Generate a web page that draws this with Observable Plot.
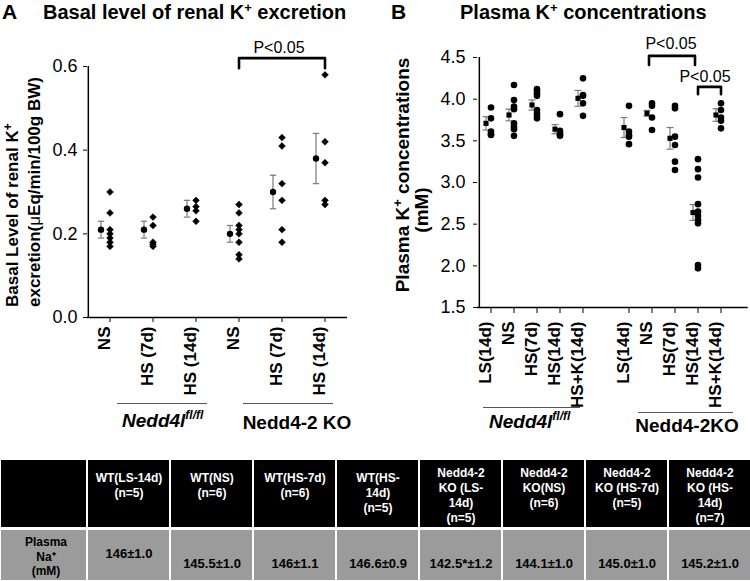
<!DOCTYPE html>
<html><head><meta charset="utf-8">
<script src="https://cdn.jsdelivr.net/npm/d3@7"></script>
<script src="https://cdn.jsdelivr.net/npm/@observablehq/plot@0.6"></script>
<style>
body{margin:0;background:#fff;}
#wrap{position:relative;width:750px;height:581px;overflow:hidden;background:#fff;font-family:"Liberation Sans",Arial,sans-serif;}
#wrap > *{position:absolute;}
</style></head><body>
<div id="wrap"></div>
<script>
// ---------------- DATA ----------------
// Panel A: basal renal K+ excretion (uEq/min/100g BW)
const aCategories = ["NS", "HS (7d)", "HS (14d)", "NS", "HS (7d)", "HS (14d)"];
const aTicks = [0, 0.2, 0.4, 0.6];
const aWT_NS    = [0.30, 0.25, 0.21, 0.20, 0.19, 0.18, 0.17];
const aWT_HS7   = [0.24, 0.22, 0.18, 0.175, 0.17];
const aWT_HS14  = [0.28, 0.265, 0.255, 0.23];
const aKO_NS    = [0.27, 0.25, 0.22, 0.21, 0.20, 0.18, 0.15, 0.14];
const aKO_HS7   = [0.43, 0.41, 0.32, 0.28, 0.21, 0.18];
const aKO_HS14  = [0.58, 0.42, 0.37, 0.28, 0.27];
const aMeans = [0.21, 0.21, 0.26, 0.20, 0.30, 0.38];
const aErrors = [0.02, 0.02, 0.02, 0.02, 0.04, 0.06];
const aBracket = [{x: 3, y: 0.596}, {x: 3, y: 0.62}, {x: 5, y: 0.62}, {x: 5, y: 0.596}];
const aBracketLabel = [{x: 4, y: 0.62, t: "P<0.05"}];

// Panel B: plasma K+ concentrations (mM)
const bCategories = ["LS(14d)", "NS", "HS(7d)", "HS(14d)", "HS+K(14d)", "", "LS(14d)", "NS", "HS(7d)", "HS(14d)", "HS+K(14d)"];
const bTicks = [1.5, 2.0, 2.5, 3.0, 3.5, 4.0, 4.5];
const bWT_LS14  = [3.90, 3.77, 3.61, 3.58, 3.57];
const bWT_NS    = [4.17, 3.99, 3.91, 3.88, 3.71, 3.67, 3.64, 3.56];
const bWT_HS7   = [4.12, 4.10, 4.07, 4.04, 3.87, 3.83, 3.80, 3.77];
const bWT_HS14  = [3.82, 3.62, 3.59, 3.57, 3.56];
const bWT_HSK   = [4.25, 4.05, 4.04, 3.95, 3.80];
const bKO_LS14  = [3.92, 3.61, 3.57, 3.55, 3.46];
const bKO_NS    = [3.95, 3.92, 3.78, 3.63];
const bKO_HS7   = [3.92, 3.89, 3.55, 3.45, 3.25, 3.15];
const bKO_HS14  = [3.28, 3.16, 3.06, 2.74, 2.65, 2.60, 2.55, 2.51, 2.01, 1.97];
const bKO_HSK   = [3.95, 3.87, 3.78, 3.74, 3.65];
const bMeans  = [3.71, 3.81, 3.93, 3.64, 4.01, null, 3.66, 3.83, 3.53, 2.64, 3.81];
const bErrors = [0.08, 0.07, 0.06, 0.055, 0.095, null, 0.12, 0.035, 0.13, 0.095, 0.075];
const bBracket1 = [{x: 7, y: 4.41}, {x: 7, y: 4.52}, {x: 9, y: 4.52}, {x: 9, y: 4.41}];
const bBracket2 = [{x: 9, y: 4.06}, {x: 9, y: 4.147}, {x: 10, y: 4.147}, {x: 10, y: 4.06}];
const bBracketLabels = [{x: 8, y: 4.52, t: "P<0.05"}];
const bBracketLabels2 = [{x: 10, y: 4.147, t: "P<0.05"}];

// Table: plasma Na+
const tableHeader = ["", "WT(LS-14d)\n(n=5)", "WT(NS)\n(n=6)", "WT(HS-7d)\n(n=6)", "WT(HS-\n14d)\n(n=5)",
  "Nedd4-2\nKO (LS-\n14d)\n(n=5)", "Nedd4-2\nKO(NS)\n(n=6)", "Nedd4-2\nKO (HS-7d)\n(n=5)", "Nedd4-2\nKO (HS-\n14d)\n(n=7)"];
const tableRow = ["Plasma\nNa\u207A\n(mM)", "146\u00B11.0", "145.5\u00B11.0", "146\u00B11.1", "146.6\u00B10.9",
  "142.5*\u00B11.2", "144.1\u00B11.0", "145.0\u00B11.0", "145.2\u00B11.0"];

// ---------------- BUILD ----------------
const FONT = '"Liberation Sans", Arial, sans-serif';
const wrap = document.getElementById("wrap");
const capSymbol = {draw(ctx, size) { const r = Math.sqrt(size / Math.PI); ctx.moveTo(-r, 0); ctx.lineTo(r, 0); }};
const baseStyle = {fontFamily: FONT, fontSize: "17px", background: "transparent", overflow: "visible", color: "black"};

function place(el, left, top) { el.style.left = left + "px"; el.style.top = top + "px"; wrap.appendChild(el); }

// Panel A
const aIdx = d3.range(aCategories.length);
const aGroups = [aWT_NS, aWT_HS7, aWT_HS14, aKO_NS, aKO_HS7, aKO_HS14];
const aPoints = aGroups.flatMap((vals, g) => vals.map(v => ({g, v})));
const aSummary = aMeans.map((m, g) => ({g, m, e: aErrors[g]}));
const aCaps = aSummary.flatMap(d => [{g: d.g, y: d.m - d.e}, {g: d.g, y: d.m + d.e}]);
const A = {w: 375, h: 410, ml: 87, mr: 28, mt: 66, mb: 93};
const bwA = (A.w - A.ml - A.mr) / aCategories.length;
const plotA = Plot.plot({
  width: A.w, height: A.h, marginLeft: A.ml, marginRight: A.mr, marginTop: A.mt, marginBottom: A.mb,
  style: baseStyle,
  x: {type: "band", domain: aIdx, padding: 0, axis: null},
  y: {domain: [0, 0.6], axis: null},
  marks: [
    Plot.axisY({ticks: aTicks, tickFormat: d3.format(".1f"), tickSize: 4, tickPadding: 6, fontSize: 18, label: null}),
    Plot.axisX({tickFormat: () => "", tickSize: 5, label: null}),
    Plot.text(aIdx, {x: d => d, text: d => aCategories[d], frameAnchor: "bottom", rotate: -90, textAnchor: "end", dy: 9,
      fontSize: 17, fontWeight: "bold", fill: "black"}),
    Plot.ruleY([0], {stroke: "black", strokeWidth: 1.5}),
    Plot.ruleX([0], {x: d => d, y1: 0, y2: 0.6, dx: -bwA / 2, stroke: "black", strokeWidth: 1.5}),
    Plot.ruleX(aSummary, {x: "g", y1: d => d.m - d.e, y2: d => d.m + d.e, dx: -9, stroke: "#7a7a7a", strokeWidth: 1.2}),
    Plot.dot(aCaps, {x: "g", y: "y", dx: -9, symbol: capSymbol, r: 3.2, stroke: "#7a7a7a", strokeWidth: 1.2}),
    Plot.dot(aPoints, {x: "g", y: "v", symbol: "diamond2", r: 3.1, fill: "black", stroke: "black", strokeWidth: 0.5}),
    Plot.dot(aSummary, {x: "g", y: "m", dx: -9, r: 3.2, fill: "black", stroke: "none"}),
    Plot.line(aBracket, {x: "x", y: "y", stroke: "black", strokeWidth: 2.6}),
    Plot.text(aBracketLabel, {x: "x", y: "y", text: "t", dx: -3, dy: -10, fontSize: 16})
  ]
});
place(plotA, 0, 0);

// Panel B
const bIdx = d3.range(bCategories.length);
const bLabelled = bIdx.filter(i => bCategories[i] !== "");
const bGroups = [bWT_LS14, bWT_NS, bWT_HS7, bWT_HS14, bWT_HSK, [], bKO_LS14, bKO_NS, bKO_HS7, bKO_HS14, bKO_HSK];
const bPoints = bGroups.flatMap((vals, g) => vals.map(v => ({g, v})));
const bSummary = bMeans.map((m, g) => ({g, m, e: bErrors[g]})).filter(d => d.m != null);
const bCaps = bSummary.flatMap(d => [{g: d.g, y: d.m - d.e}, {g: d.g, y: d.m + d.e}]);
const B = {w: 375, h: 410, ml: 102, mr: 16.3, mt: 57, mb: 103};
const bwB = (B.w - B.ml - B.mr) / bCategories.length;
const plotB = Plot.plot({
  width: B.w, height: B.h, marginLeft: B.ml, marginRight: B.mr, marginTop: B.mt, marginBottom: B.mb,
  style: baseStyle,
  x: {type: "band", domain: bIdx, padding: 0, axis: null},
  y: {domain: [1.5, 4.5], axis: null},
  marks: [
    Plot.axisY({ticks: bTicks, tickFormat: d3.format(".1f"), tickSize: 4, tickPadding: 8, fontSize: 18, label: null}),
    Plot.axisX({ticks: bLabelled, tickFormat: () => "", tickSize: 6, label: null}),
    Plot.text(bLabelled, {x: d => d, text: d => bCategories[d], frameAnchor: "bottom", rotate: -90, textAnchor: "end", dy: 14,
      fontSize: 17, fontWeight: "bold", fill: "black"}),
    Plot.ruleY([1.5], {stroke: "black", strokeWidth: 1.5, insetRight: -14}),
    Plot.ruleX([0], {x: d => d, y1: 1.5, y2: 4.5, dx: -bwB / 2, stroke: "black", strokeWidth: 1.5}),
    Plot.ruleX(bSummary, {x: "g", y1: d => d.m - d.e, y2: d => d.m + d.e, dx: -5, stroke: "#7a7a7a", strokeWidth: 1.2}),
    Plot.dot(bCaps, {x: "g", y: "y", dx: -5, symbol: capSymbol, r: 3.5, stroke: "#7a7a7a", strokeWidth: 1.2}),
    Plot.dot(bPoints, {x: "g", y: "v", r: 3.3, fill: "black", stroke: "none"}),
    Plot.dot(bSummary, {x: "g", y: "m", dx: -5, symbol: "square", r: 2.9, fill: "black", stroke: "none"}),
    Plot.line(bBracket1, {x: "x", y: "y", dx: -3, stroke: "black", strokeWidth: 2.6}),
    Plot.line(bBracket2, {x: "x", y: "y", stroke: "black", strokeWidth: 2.6}),
    Plot.text(bBracketLabels, {x: "x", y: "y", text: "t", dx: -4, dy: -12, fontSize: 16}),
    Plot.text(bBracketLabels2, {x: "x", y: "y", text: "t", dx: -16, dy: -10, fontSize: 16})
  ]
});
place(plotB, 375, 0);

// Table header and row
const cols = d3.range(tableHeader.length);
function tablePlot(height, fill, marks) {
  return Plot.plot({
    width: 750, height, marginLeft: 2.7, marginRight: -2.7, marginTop: 0, marginBottom: 0,
    style: {fontFamily: FONT, fontSize: "12px", background: "transparent", overflow: "visible"},
    x: {type: "band", domain: cols, padding: 0, axis: null},
    marks: [
      Plot.cell(cols.slice(1), {x: d => d, fill, insetLeft: 1, insetRight: 1}),
      Plot.cell(cols.slice(0, 1), {x: d => d, fill, insetLeft: -3, insetRight: 1}),
      ...marks
    ]
  });
}
const header = tablePlot(67, "black", [
  Plot.text(cols.slice(1, 5), {x: d => d, text: d => tableHeader[d], frameAnchor: "top", lineAnchor: "top", dy: 11, lineHeight: 1.25, fill: "white", fontWeight: "bold", fontSize: 12}),
  Plot.text(cols.slice(5), {x: d => d, text: d => tableHeader[d], frameAnchor: "top", lineAnchor: "top", dy: 6, lineHeight: 1.25, fill: "white", fontWeight: "bold", fontSize: 12})
]);
place(header, 0, 460);
const row = tablePlot(50, "#9b9b9b", [
  Plot.text(cols.slice(0, 1), {x: d => d, text: d => tableRow[d], frameAnchor: "top", lineAnchor: "top", dy: 6, lineHeight: 1.17, fill: "black", fontWeight: "bold", fontSize: 12}),
  Plot.text(cols.slice(1, 2), {x: d => d, text: d => tableRow[d], frameAnchor: "top", lineAnchor: "top", dy: 18, fill: "black", fontWeight: "bold", fontSize: 13}),
  Plot.text(cols.slice(2), {x: d => d, text: d => tableRow[d], frameAnchor: "top", lineAnchor: "top", dy: 28, fill: "black", fontWeight: "bold", fontSize: 13})
]);
place(row, 0, 530);

// Overlay: titles, axis titles, group labels
const overlay = document.createElementNS("http://www.w3.org/2000/svg", "svg");
overlay.setAttribute("width", 750); overlay.setAttribute("height", 460);
overlay.style.pointerEvents = "none";
overlay.setAttribute("font-family", FONT);
overlay.innerHTML = `
<g font-weight="bold" fill="black">
  <text x="2" y="19" font-size="21">A</text>
  <text x="43" y="19" font-size="20">Basal level of renal K<tspan font-size="13" dy="-7">+</tspan><tspan dy="7"> excretion</tspan></text>
  <text x="391" y="19" font-size="21">B</text>
  <text x="460" y="19" font-size="20">Plasma K<tspan font-size="13" dy="-7">+</tspan><tspan dy="7"> concentrations</tspan></text>

  <text transform="translate(18,307) rotate(-90)" font-size="17">Basal Level of renal K<tspan font-size="12" dy="-6">+</tspan></text>
  <text transform="translate(40,307) rotate(-90)" font-size="17">excretion(<tspan font-weight="normal">\u03BC</tspan>Eq/min/100g BW)</text>
  <text transform="translate(409,175) rotate(-90)" font-size="19" text-anchor="middle">Plasma K<tspan font-size="13" dy="-7">+</tspan><tspan dy="7"> concentrations</tspan></text>
  <text transform="translate(428,210) rotate(-90)" font-size="19" text-anchor="middle">(mM)</text>

  <text x="122" y="427" font-size="19" font-style="italic">Nedd4l<tspan font-size="12" dy="-8">fl/fl</tspan></text>
  <text x="297" y="429" font-size="19" text-anchor="middle">Nedd4-2 KO</text>
  <text x="489" y="428" font-size="19" font-style="italic">Nedd4l<tspan font-size="12" dy="-8">fl/fl</tspan></text>
  <text x="687" y="432" font-size="19" text-anchor="middle">Nedd4-2KO</text>
</g>
<g stroke="#555" stroke-width="1">
  <line x1="117" x2="207" y1="403.5" y2="403.5"/>
  <line x1="243" x2="333" y1="403.5" y2="403.5"/>
  <line x1="483" x2="580" y1="407.5" y2="407.5"/>
  <line x1="638" x2="733" y1="412.5" y2="412.5"/>
</g>`;
place(overlay, 0, 0);
</script>
</body></html>
